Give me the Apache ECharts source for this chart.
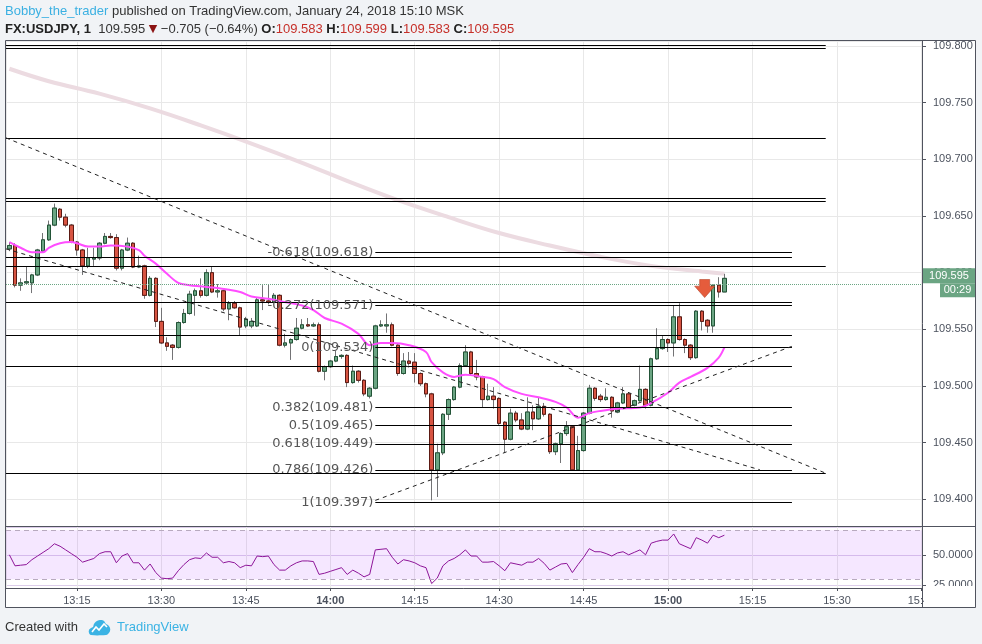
<!DOCTYPE html>
<html><head><meta charset="utf-8">
<script src="https://cdn.jsdelivr.net/npm/echarts@6/dist/echarts.min.js"></script>
<style>html,body{margin:0;padding:0;background:#f1f3f6;}#c{width:982px;height:644px;}</style>
</head><body><div id="c"></div>
<script>
// ---- data (minutes after 13:00) ----
const START_MINUTE = 3; // first candle 13:03, one-minute bars
const opens = [
109.621,109.624,109.589,109.591,109.591,109.598,109.619,109.629,109.642,109.656,
109.649,109.642,109.627,109.620,109.606,109.612,109.613,109.626,109.632,109.631,
109.604,109.620,109.626,109.605,109.606,109.580,109.595,109.557,109.538,109.536,
109.534,109.556,109.564,109.580,109.584,109.580,109.600,109.583,109.584,109.568,
109.573,109.569,109.553,109.553,109.553,109.576,109.575,109.574,109.580,109.536,
109.538,109.541,109.551,109.554,109.553,109.554,109.513,109.517,109.522,109.526,
109.527,109.503,109.513,109.505,109.491,109.498,109.553,109.553,109.554,109.536,
109.511,109.522,109.521,109.511,109.502,109.493,109.426,109.441,109.475,109.488,
109.499,109.518,109.530,109.511,109.508,109.488,109.491,109.489,109.468,109.453,
109.476,109.470,109.462,109.477,109.471,109.482,109.475,109.442,109.449,109.458,
109.464,109.426,109.443,109.476,109.498,109.491,109.488,109.490,109.477,109.485,
109.493,109.483,109.487,109.497,109.483,109.524,109.533,109.541,109.538,109.561,
109.541,109.536,109.525,109.566,109.558,109.553,109.589,109.583];
const closes = [
109.624,109.589,109.591,109.592,109.598,109.620,109.629,109.642,109.657,109.649,
109.642,109.627,109.620,109.606,109.613,109.613,109.626,109.632,109.631,109.604,
109.620,109.626,109.605,109.606,109.580,109.595,109.557,109.538,109.535,109.534,
109.556,109.564,109.581,109.584,109.580,109.600,109.583,109.584,109.568,109.573,
109.569,109.552,109.559,109.557,109.576,109.575,109.574,109.580,109.536,109.538,
109.541,109.551,109.554,109.553,109.554,109.513,109.517,109.522,109.526,109.527,
109.503,109.513,109.505,109.493,109.498,109.553,109.554,109.554,109.536,109.511,
109.522,109.520,109.511,109.502,109.493,109.426,109.441,109.475,109.488,109.499,
109.518,109.530,109.511,109.508,109.488,109.491,109.488,109.467,109.453,109.476,
109.470,109.462,109.477,109.471,109.482,109.475,109.442,109.449,109.458,109.464,
109.426,109.443,109.476,109.498,109.489,109.488,109.490,109.478,109.485,109.493,
109.481,109.487,109.497,109.483,109.524,109.533,109.541,109.538,109.561,109.541,
109.536,109.525,109.566,109.557,109.553,109.589,109.583,109.595];
const lows = [
109.619,109.587,109.584,109.590,109.582,109.597,109.618,109.628,109.641,109.646,
109.640,109.626,109.615,109.598,109.604,109.606,109.611,109.625,109.630,109.602,
109.602,109.619,109.604,109.604,109.577,109.579,109.552,109.537,109.531,109.523,
109.533,109.555,109.563,109.562,109.578,109.579,109.582,109.578,109.566,109.558,
109.568,109.545,109.551,109.551,109.552,109.567,109.572,109.573,109.535,109.534,
109.523,109.540,109.550,109.552,109.552,109.512,109.505,109.516,109.521,109.524,
109.499,109.502,109.503,109.491,109.489,109.497,109.552,109.547,109.535,109.509,
109.510,109.518,109.503,109.500,109.490,109.399,109.402,109.439,109.470,109.487,
109.498,109.517,109.509,109.505,109.481,109.487,109.480,109.465,109.441,109.452,
109.468,109.461,109.461,109.461,109.470,109.473,109.440,109.439,109.432,109.456,
109.425,109.425,109.442,109.475,109.487,109.486,109.487,109.472,109.476,109.484,
109.480,109.482,109.486,109.480,109.482,109.523,109.532,109.530,109.526,109.540,
109.529,109.523,109.524,109.549,109.547,109.547,109.578,109.583];
const highs = [
109.627,109.626,109.595,109.605,109.599,109.621,109.635,109.646,109.661,109.657,
109.652,109.643,109.628,109.621,109.622,109.622,109.627,109.635,109.635,109.634,
109.621,109.631,109.627,109.615,109.607,109.597,109.596,109.569,109.543,109.537,
109.557,109.568,109.584,109.586,109.595,109.603,109.605,109.590,109.586,109.575,
109.575,109.570,109.561,109.560,109.578,109.589,109.590,109.582,109.581,109.546,
109.542,109.560,109.559,109.560,109.556,109.556,109.518,109.523,109.531,109.528,
109.528,109.518,109.514,109.506,109.499,109.554,109.558,109.564,109.556,109.537,
109.529,109.530,109.529,109.512,109.503,109.494,109.449,109.476,109.489,109.500,
109.520,109.536,109.531,109.523,109.509,109.502,109.499,109.490,109.469,109.480,
109.478,109.476,109.490,109.483,109.490,109.485,109.476,109.450,109.459,109.469,
109.465,109.456,109.477,109.501,109.499,109.493,109.498,109.491,109.486,109.499,
109.494,109.488,109.518,109.498,109.525,109.551,109.544,109.542,109.571,109.573,
109.542,109.537,109.567,109.567,109.559,109.590,109.596,109.599];
const rsiValues = [
50,41,41.5,42,46,49,52,55,59,57,
54,51,48,44,45.5,47,51,52.5,52.5,43.5,
49,51,43.5,43.5,37.5,42.5,35.5,31,30.5,31,
37,42,46,47.5,47,51.5,48,48,43.5,44.5,
43.5,39.5,41.5,41,49,48.5,49,42,37.5,37.5,
41,43.5,45,45,44.5,34,35,36.5,38,39.5,
34,37.5,35,32,34,54,54.5,55,48,42.5,
46,45,43.5,41,39.5,26.5,31,41,45,47,
50,54,49,49,44,44,44.5,41,37,43.5,
42.5,41.5,44,44,47,43,37.5,40,42.5,43,
35.5,42,48,55,52.5,52.5,51,49,51.5,52.5,
50,52,54,50,59.5,61,62,62,67,59,
57,55,64,62,59.5,66,64,66];
// moving averages read at sample minutes
const maFastMinutes = [3,5,7,9,10,12,14,15,17,19,21,24,26,27,29,31,33,35,37,39,42,44,46,49,51,55,57,59,62,65,67,69,71,74,77,78,80,82,84,87,89,91,94,97,100,102,104,106,108,111,115,117,120,122,124,127,129,130];
const maFastValues = [109.627,109.622,109.618,109.618,109.622,109.626,109.627,109.626,109.623,109.623,109.624,109.623,109.620,109.615,109.608,109.599,109.591,109.589,109.588,109.587,109.585,109.583,109.579,109.577,109.575,109.571,109.567,109.560,109.555,109.546,109.536,109.538,109.538,109.536,109.530,109.521,109.512,109.508,109.510,109.508,109.506,109.499,109.493,109.490,109.486,109.481,109.472,109.476,109.478,109.480,109.481,109.485,109.494,109.503,109.508,109.516,109.525,109.534];
const maSlowMinutes = [3,10,19,28,37,46,55,64,72,81,90,99,108,117,126,130];
const maSlowValues = [109.780,109.769,109.758,109.745,109.730,109.714,109.697,109.679,109.664,109.649,109.635,109.624,109.614,109.606,109.601,109.599];
// drawings
const levelPrices = [109.801,109.798,109.719,109.666,109.663,109.614,109.606,109.574,109.545,109.517,109.423];
const levelEnds   = [148,148,148,148,148,142,148,142,142,142,148];
const fibRatios = ['-0.618','-0.272','0','0.382','0.5','0.618','0.786','1'];
const fibPrices = [109.618,109.571,109.534,109.481,109.465,109.449,109.426,109.397];
const FIB_START = 68, FIB_END = 142;
const trendFrom = [[2.4,109.719],[2.4,109.621],[68,109.399]];
const trendTo   = [[148,109.423],[136.3,109.426],[142,109.535]];
const arrowPoint = [126.5, 109.586];
const lastClose = 109.595;
const X_MIN = 2.4, X_MAX = 165.1;

const times = opens.map((_, i) => START_MINUTE + i);
const wickData = times.map((t, i) => [t, opens[i], closes[i], lows[i], highs[i]]);
const bodyData = times.map((t, i) => [t, opens[i], closes[i], Math.min(opens[i], closes[i]), Math.max(opens[i], closes[i])]);
const rsiData = times.map((t, i) => [t, rsiValues[i]]);
const maFast = maFastMinutes.map((m, i) => [m, maFastValues[i]]);
const maSlow = maSlowMinutes.map((m, i) => [m, maSlowValues[i]]);

function fmtTime(v) {
  const t = Math.round(v), h = 13 + Math.floor(t / 60), m = t % 60;
  return h + ':' + (m < 10 ? '0' : '') + m;
}
const AX = '"Liberation Sans", Arial, sans-serif';
const lineMarks = [];
levelPrices.forEach((p, i) => lineMarks.push([{coord: [X_MIN, p]}, {coord: [levelEnds[i], p]}]));
fibPrices.forEach((p, i) => lineMarks.push([
  {coord: [FIB_START, p], label: {show: true, position: 'start', distance: 2, formatter: fibRatios[i] + '(' + p.toFixed(3) + ')',
    color: '#555', fontSize: 13, fontFamily: '"DejaVu Sans", sans-serif'}},
  {coord: [FIB_END, p]}]));
const dashMarks = trendFrom.map((f, i) => [{coord: f}, {coord: trendTo[i]}]);

const chart = echarts.init(document.getElementById('c'));
const option = {
  animation: false,
  backgroundColor: '#f1f3f6',
  grid: [
    {left: 6, right: 60, top: 41, height: 485},
    {left: 6, right: 60, top: 527, height: 61}
  ],
  xAxis: [
    {type: 'value', gridIndex: 0, min: X_MIN, max: X_MAX, splitNumber: 11, minInterval: 15, maxInterval: 15,
      axisLine: {show: false}, axisTick: {show: false}, axisLabel: {show: false},
      splitLine: {show: true, lineStyle: {color: '#e8e8e8'}}},
    {type: 'value', gridIndex: 1, min: X_MIN, max: X_MAX, splitNumber: 11, minInterval: 15, maxInterval: 15,
      axisLine: {show: false}, axisTick: {show: true, length: 3, lineStyle: {color: '#50535e'}},
      splitLine: {show: true, lineStyle: {color: '#e8e8e8'}},
      axisLabel: {show: true, showMinLabel: false, showMaxLabel: false, margin: 7, color: '#4c525e', fontSize: 11, fontFamily: AX,
        formatter: v => (Math.round(v) % 60 === 0 ? '{b|' + fmtTime(v) + '}' : fmtTime(v)),
        rich: {b: {fontWeight: 'bold', color: '#4c525e', fontSize: 11, fontFamily: AX}}}}
  ],
  yAxis: [
    {type: 'value', gridIndex: 0, position: 'right', min: 109.3764, max: 109.8045, splitNumber: 8, minInterval: 0.05, maxInterval: 0.05,
      axisLine: {show: false}, axisTick: {show: true, length: 4, lineStyle: {color: '#50535e'}},
      splitLine: {show: true, lineStyle: {color: '#e8e8e8'}},
      axisLabel: {showMinLabel: false, showMaxLabel: false, margin: 11, color: '#4c525e', fontSize: 11, fontFamily: AX,
        formatter: v => v.toFixed(3)}},
    {type: 'value', gridIndex: 1, position: 'right', min: 22.9, max: 72.7, splitNumber: 2, minInterval: 25, maxInterval: 25,
      axisLine: {show: false}, axisTick: {show: true, length: 4, lineStyle: {color: '#50535e'}},
      splitLine: {show: true, lineStyle: {color: '#dccdea'}},
      axisLabel: {showMinLabel: false, showMaxLabel: false, margin: 11, color: '#4c525e', fontSize: 11, fontFamily: AX,
        formatter: v => v.toFixed(4)}}
  ],
  series: [
    {type: 'line', name: 'MA slow', xAxisIndex: 0, yAxisIndex: 0, data: maSlow, smooth: 0.4, showSymbol: false, z: 1,
      lineStyle: {color: '#ecdbe1', width: 4}, silent: true},
    {type: 'candlestick', name: 'wick', xAxisIndex: 0, yAxisIndex: 0, data: wickData, encode: {x: 0, y: [1, 2, 3, 4]},
      barWidth: 4, z: 2, silent: true,
      itemStyle: {color: 'rgba(0,0,0,0)', color0: 'rgba(0,0,0,0)', borderColor: '#737375', borderColor0: '#737375', borderWidth: 1}},
    {type: 'candlestick', name: 'USDJPY', xAxisIndex: 0, yAxisIndex: 0, data: bodyData, encode: {x: 0, y: [1, 2, 3, 4]},
      barWidth: 4, z: 3, silent: true,
      itemStyle: {color: '#6ba583', color0: '#d75442', borderColor: '#225437', borderColor0: '#5b1a13', borderWidth: 1},
      markPoint: {silent: true, label: {show: false}, data: [{coord: arrowPoint,
        symbol: 'path://M5,0 L15,0 L15,7 L20,7 L10,19 L0,7 L5,7 Z', symbolSize: [20, 19], symbolKeepAspect: true,
        itemStyle: {color: '#e55c3c', borderColor: '#b6452b', borderWidth: 0.6}}]}},
    {type: 'line', name: 'MA fast', xAxisIndex: 0, yAxisIndex: 0, data: maFast, smooth: 0.35, showSymbol: false, z: 4,
      lineStyle: {color: '#ff4dff', width: 2}, silent: true},
    {type: 'line', name: 'levels', xAxisIndex: 0, yAxisIndex: 0, data: [[X_MIN, null]], showSymbol: false, z: 5, silent: true,
      markLine: {silent: true, symbol: ['none', 'none'], animation: false, label: {show: false},
        lineStyle: {color: '#000', width: 1, type: 'solid'},
        data: lineMarks.concat(dashMarks.map(d => [Object.assign({lineStyle: {type: [4, 4], color: '#222'}}, d[0]), d[1]]))
          .concat([{yAxis: lastClose, lineStyle: {type: 'dotted', color: '#6ba583'}}])}},
    {type: 'line', name: 'RSI', xAxisIndex: 1, yAxisIndex: 1, data: rsiData, showSymbol: false, z: 3, silent: true,
      lineStyle: {color: '#8e1599', width: 1},
      markArea: {silent: true, itemStyle: {color: 'rgba(153,21,255,0.1)'}, data: [[{yAxis: 30}, {yAxis: 70}]]},
      markLine: {silent: true, symbol: ['none', 'none'], label: {show: false},
        lineStyle: {color: '#b8aabf', type: [5, 4], width: 1}, data: [{yAxis: 70}, {yAxis: 30}]}}
  ]
};
chart.setOption(option);

const py = chart.convertToPixel({gridIndex: 0}, [X_MAX, lastClose])[1];
const BORDER = '#50535e';
const TXT = '"Liberation Sans", Arial, sans-serif';
chart.setOption({
  graphic: [
    {type: 'rect', z: -100, shape: {x: 5, y: 40, width: 971, height: 567}, style: {fill: '#ffffff'}},
    {type: 'rect', z: 50, shape: {x: 924, y: 586, width: 51, height: 20.5}, style: {fill: '#ffffff'}},
    {type: 'rect', z: 100, shape: {x: 5.5, y: 40.5, width: 970, height: 567}, style: {fill: 'none', stroke: BORDER, lineWidth: 1}},
    {type: 'line', z: 100, shape: {x1: 922.5, y1: 40, x2: 922.5, y2: 607}, style: {stroke: BORDER, lineWidth: 1}},
    {type: 'line', z: 100, shape: {x1: 5, y1: 526.5, x2: 975, y2: 526.5}, style: {stroke: BORDER, lineWidth: 1}},
    {type: 'line', z: 100, shape: {x1: 5, y1: 588.5, x2: 922.5, y2: 588.5}, style: {stroke: BORDER, lineWidth: 1}},
    {type: 'rect', z: 101, shape: {x: 923, y: py - 10, width: 52, height: 15}, style: {fill: '#6ba583'}},
    {type: 'text', z: 102, x: 949, y: py - 2.5, style: {text: lastClose.toFixed(3), fill: '#fff', font: '11px ' + TXT, align: 'center', verticalAlign: 'middle'}},
    {type: 'rect', z: 101, shape: {x: 940, y: py + 5, width: 35, height: 14}, style: {fill: '#6ba583'}},
    {type: 'text', z: 102, x: 957.5, y: py + 12, style: {text: '00:29', fill: '#fff', font: '11px ' + TXT, align: 'center', verticalAlign: 'middle'}},
    {type: 'text', z: 102, x: 5, y: 11, style: {
      text: '{u|Bobby_the_trader} published on TradingView.com, January 24, 2018 15:10 MSK',
      fill: '#333', font: '13px ' + TXT, verticalAlign: 'middle',
      rich: {u: {fill: '#3bb0e2', fontSize: 13, fontFamily: TXT}}}},
    {type: 'text', z: 102, x: 5, y: 29, style: {
      text: '{b|FX:USDJPY, 1}  109.595 {r|▼} −0.705 (−0.64%) {b|O:}{v|109.583} {b|H:}{v|109.599} {b|L:}{v|109.583} {b|C:}{v|109.595}',
      fill: '#333', font: '13px ' + TXT, verticalAlign: 'middle',
      rich: {b: {fontWeight: 'bold', fill: '#222', fontSize: 13, fontFamily: TXT},
             v: {fill: '#c6302a', fontSize: 13, fontFamily: TXT},
             r: {fill: '#8b1212', fontSize: 11, fontFamily: '"DejaVu Sans", sans-serif'}}}},
    {type: 'text', z: 102, x: 5, y: 627, style: {text: 'Created with', fill: '#333', font: '13px ' + TXT, verticalAlign: 'middle'}},
    {type: 'polygon', z: 102, x: 88, y: 618, shape: {smooth: 0.4, points: [[3,17],[1,15],[1,12],[3,10],[5,9],[6,6],[9,3],[13,2],[16,3],[18,6],[20,7],[22,10],[22,13],[20,16],[18,17]]},
      style: {fill: '#3bb3e4'}},
    {type: 'polyline', z: 103, x: 88, y: 618, shape: {points: [[4, 14], [8, 9], [11, 12], [16, 6], [19, 9]]},
      style: {stroke: '#ffffff', lineWidth: 1.6, fill: 'none'}},
    {type: 'text', z: 102, x: 117, y: 627, style: {text: 'TradingView', fill: '#3bb3e4', font: '13px ' + TXT, verticalAlign: 'middle'}}
  ]
});
</script></body></html>
